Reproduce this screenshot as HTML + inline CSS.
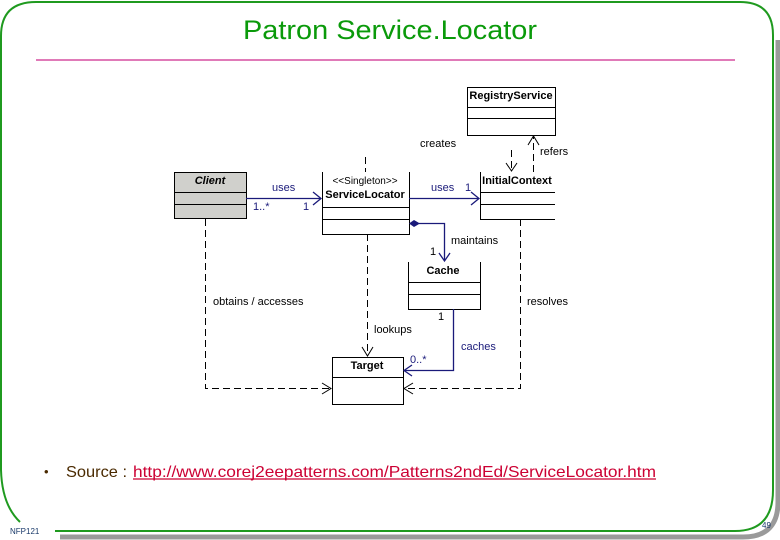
<!DOCTYPE html>
<html><head><meta charset="utf-8"><style>
html,body{margin:0;padding:0;background:#fff;width:780px;height:540px;overflow:hidden;font-family:"Liberation Sans",sans-serif;}
</style></head><body>
<svg width="780" height="540" style="position:absolute;left:0;top:0" font-family="Liberation Sans, sans-serif">
<path d="M778 40 V502 Q778 537 743 537 H60" fill="none" stroke="#9a9a9a" stroke-width="5"/>
<path d="M36 2 H740 Q773 2 773 35 V490 Q773 531 735 531 H55 M20 522 Q2 505 1 470 V36 Q1 2 36 2" fill="none" stroke="#1f9a1f" stroke-width="2"/>
<line x1="36" y1="60" x2="735" y2="60" stroke="#e07ab8" stroke-width="2"/>
<text x="243" y="39" textLength="294" lengthAdjust="spacingAndGlyphs" font-size="27" fill="#0a9a0a">Patron Service.Locator</text>
<g fill="none" stroke="#000" stroke-width="1">
<rect x="467.5" y="87.5" width="88" height="48"/><line x1="467" y1="107.5" x2="556" y2="107.5"/><line x1="467" y1="118.5" x2="556" y2="118.5"/>
<rect x="174.5" y="172.5" width="72" height="46" fill="#d0d0cc"/><line x1="174" y1="192.5" x2="247" y2="192.5"/><line x1="174" y1="204.5" x2="247" y2="204.5"/>
<path d="M322.5 172 V234.5 H409.5 V172"/><line x1="322" y1="207.5" x2="410" y2="207.5"/><line x1="322" y1="219.5" x2="410" y2="219.5"/>
<path d="M480.5 172 V219.5 H555 M480 192.5 H555 M480 204.5 H555"/>
<path d="M408.5 262 V309.5 H480.5 V262 M408 282.5 H481 M408 294.5 H481"/>
<rect x="332.5" y="357.5" width="71" height="47"/><line x1="332" y1="377.5" x2="404" y2="377.5"/>
</g>
<g fill="none" stroke="#000" stroke-width="1" stroke-dasharray="7,4">
<path d="M365.5 157 V172"/><path d="M511.5 150 V170"/><path d="M533.5 172 V137"/><path d="M520.5 219 V388.5 H405"/>
<path d="M367.5 234 V355"/><path d="M205.5 219 V388.5 H330"/>
</g>
<g fill="none" stroke="#000" stroke-width="1">
<path d="M506 163 L511.5 171 L517 163"/><path d="M528 145 L533.5 136 L539 145"/>
<path d="M362 347 L367.5 356 L373 347"/><path d="M322 383 L331 388.5 L322 394"/><path d="M413 383 L404 388.5 L413 394"/>
</g>
<g fill="none" stroke="#1a1a7a" stroke-width="1.3">
<path d="M246 198.5 H321"/><path d="M313 192 L321 198.5 L313 205"/>
<path d="M409 198.5 H479"/><path d="M471 192 L479 198.5 L471 205"/>
<path d="M419 223.5 H444.5 V261"/><path d="M439 253 L444.5 261 L450 253"/>
<path d="M453.5 309 V370.5 H404"/><path d="M412 365 L404 370.5 L412 376"/>
</g>
<path d="M409 223.5 L414 220 L420 223.5 L414 227 Z" fill="#1a1a7a"/>
<g font-size="11" fill="#000">
<text x="511" y="99" text-anchor="middle" font-weight="bold">RegistryService</text>
<text x="210" y="184" text-anchor="middle" font-weight="bold" font-style="italic">Client</text>
<text x="365" y="184" text-anchor="middle" font-size="10">&lt;&lt;Singleton&gt;&gt;</text>
<text x="365" y="198" text-anchor="middle" font-weight="bold">ServiceLocator</text>
<text x="517" y="184" text-anchor="middle" font-weight="bold">InitialContext</text>
<text x="443" y="274" text-anchor="middle" font-weight="bold">Cache</text>
<text x="367" y="369" text-anchor="middle" font-weight="bold">Target</text>
<text x="420" y="147">creates</text><text x="540" y="155">refers</text>
<text x="451" y="244">maintains</text><text x="430" y="255">1</text>
<text x="213" y="305">obtains / accesses</text><text x="527" y="305">resolves</text>
<text x="374" y="333">lookups</text><text x="438" y="320">1</text>
</g>
<g font-size="11" fill="#1a1a7a">
<text x="272" y="191">uses</text><text x="253" y="210">1..*</text><text x="303" y="210">1</text>
<text x="431" y="191">uses</text><text x="465" y="191">1</text>
<text x="461" y="350">caches</text><text x="410" y="363">0..*</text>
</g>
<text x="44" y="476" font-size="13" fill="#4a2a00">•</text>
<text x="66" y="477" font-size="16" fill="#4a2a00" textLength="61" lengthAdjust="spacingAndGlyphs">Source :</text>
<text x="133" y="477" font-size="16" fill="#cc0033" textLength="523" lengthAdjust="spacingAndGlyphs">http://www.corej2eepatterns.com/Patterns2ndEd/ServiceLocator.htm</text>
<line x1="133" y1="479" x2="656" y2="479" stroke="#cc0033" stroke-width="1.2"/>
<text x="10" y="534" font-size="8" fill="#1a3a6a">NFP121</text>
<text x="762" y="528" font-size="8" fill="#1a3a6a">49</text>
</svg>
</body></html>
